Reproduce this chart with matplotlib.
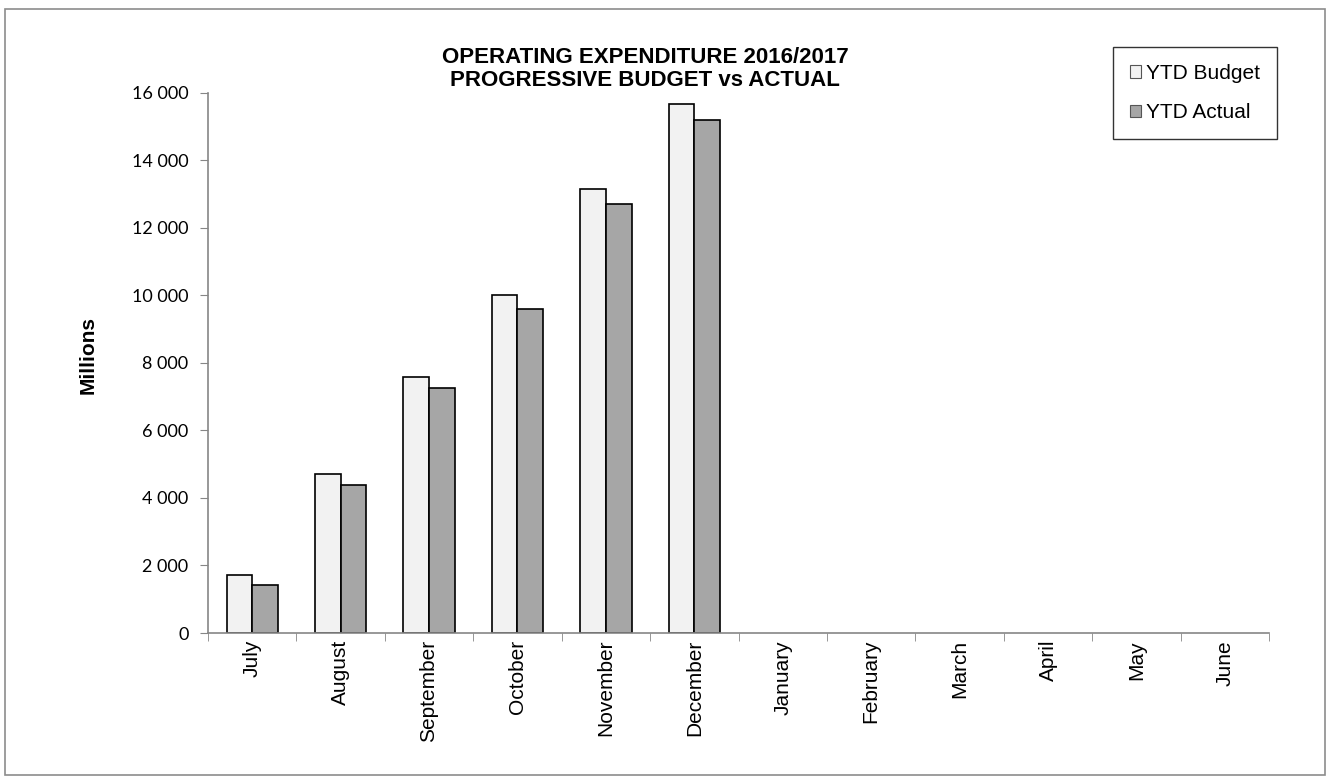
import matplotlib.pyplot as plt
import numpy as np
from matplotlib.patches import Rectangle

months = ['July', 'August', 'September', 'October', 'November', 'December',
          'January', 'February', 'March', 'April', 'May', 'June']
ytd_budget = [1730, 4700, 7580, 10000, 13150, 15670, 0, 0, 0, 0, 0, 0]
ytd_actual = [1410, 4390, 7250, 9580, 12690, 15190, 0, 0, 0, 0, 0, 0]

fig = plt.figure(figsize=(13.3, 7.8), dpi=100)
ax = fig.add_axes([208 / 1330, 1 - 633 / 780, (1269 - 208) / 1330, (633 - 92.5) / 780])

# outer chart-area border
fig.patches.append(Rectangle((5 / 1330, 5 / 780), 1320 / 1330, 766 / 780,
                             transform=fig.transFigure, fill=False,
                             edgecolor='#8c8c8c', linewidth=1.2))

x = np.arange(len(months))
w = 0.29
# empty months have no visible outline in the original
lw_b = [1.2 if v > 0 else 0 for v in ytd_budget]
lw_a = [1.2 if v > 0 else 0 for v in ytd_actual]
ax.bar(x - w / 2, ytd_budget, w, color='#f2f2f2', edgecolor='black', linewidth=lw_b,
       label='YTD Budget')
ax.bar(x + w / 2, ytd_actual, w, color='#a6a6a6', edgecolor='black', linewidth=lw_a,
       label='YTD Actual')

ax.set_xlim(-0.5, len(months) - 0.5)
ax.set_ylim(0, 16000)
ax.set_yticks(range(0, 16001, 2000))
ax.set_yticklabels([f'{v:,}'.replace(',', ' ') for v in range(0, 16001, 2000)],
                   fontfamily='Lato', fontsize=13)
ax.set_xticks(x)
ax.set_xticklabels(months, rotation=90, fontfamily='Liberation Sans', fontsize=15)
ax.set_xticks(np.arange(-0.5, len(months)), minor=True)
ax.tick_params(axis='x', which='major', length=0, pad=5)
ax.tick_params(axis='x', which='minor', length=6, color='#868686', direction='out')
ax.tick_params(axis='y', length=6, color='#868686', pad=8)

for s in ['top', 'right']:
    ax.spines[s].set_visible(False)
for s in ['left', 'bottom']:
    ax.spines[s].set_color('#868686')
    ax.spines[s].set_linewidth(1.2)

fig.text(88 / 1330, 1 - 355 / 780, 'Millions', rotation=90, ha='center', va='center',
         fontfamily='Liberation Sans', fontweight='bold', fontsize=15)

fig.text(645 / 1330, 1 - 69 / 780, 'OPERATING EXPENDITURE 2016/2017\nPROGRESSIVE BUDGET vs ACTUAL',
         ha='center', va='center', fontfamily='Liberation Sans', fontweight='bold',
         fontsize=16, linespacing=1.15)

leg = ax.legend(loc='upper left', bbox_to_anchor=(1113 / 1330, 1 - 47 / 780),
                bbox_transform=fig.transFigure,
                prop={'family': 'Liberation Sans', 'size': 15},
                frameon=True, fancybox=False, edgecolor='black',
                handlelength=0.55, handleheight=0.55, handletextpad=0.25,
                labelspacing=1.0, borderpad=0.8, borderaxespad=0)
leg.get_frame().set_linewidth(1.0)
for h in leg.legend_handles:
    h.set_edgecolor('#555555')
    h.set_linewidth(0.8)

fig.savefig('out.png', dpi=100)
